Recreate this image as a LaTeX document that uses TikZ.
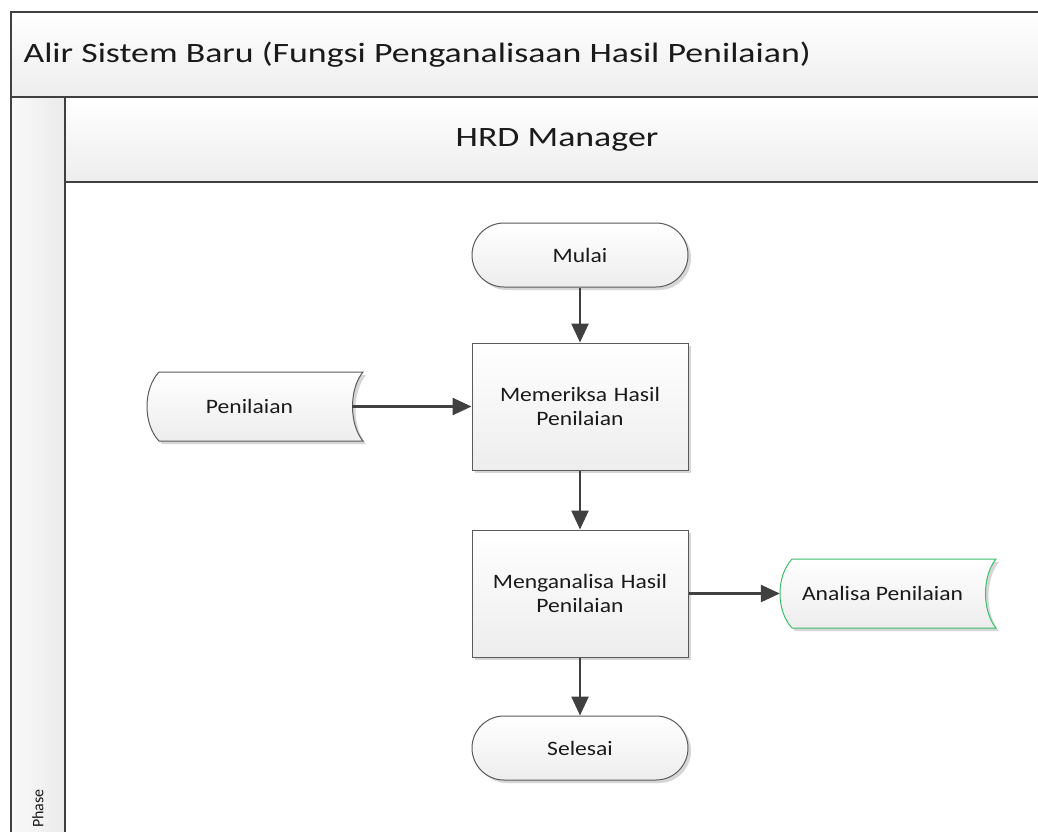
\documentclass[tikz,border=0pt]{standalone}
\usepackage{fontspec}
\setmainfont{Carlito}[FakeStretch=1.15]
\newfontfamily\bandfont{Carlito}[FakeStretch=1.28]
\newfontfamily\phasefont{Carlito}
\usetikzlibrary{arrows.meta,calc,shadows}

\definecolor{frameline}{HTML}{404040}
\definecolor{shapeline}{HTML}{5A5A5A}
\definecolor{fadelow}{HTML}{EDEDED}
\definecolor{storegreen}{HTML}{3CBF6E}
\definecolor{inktext}{HTML}{1A1A1A}

\tikzset{
  lanefill/.style={top color=white, bottom color=black!7, draw=none},
  laneline/.style={draw=frameline, line width=2pt},
  softshadow/.style={drop shadow={shadow xshift=3pt, shadow yshift=-3pt, fill=black!16, opacity=1}},
  boxfill/.style={top color=white, bottom color=fadelow},
  shapefont/.style={text=inktext, font=\fontsize{20.5}{24}\selectfont},
  process/.style={rectangle, draw=shapeline, line width=1pt, boxfill, softshadow,
    minimum width=216pt, minimum height=127pt, align=center, text width=205pt, shapefont},
  terminal/.style={rectangle, rounded corners=32pt, draw=shapeline, line width=1pt, boxfill, softshadow,
    minimum width=216pt, minimum height=64pt, align=center, shapefont},
  storeoutline/.style={draw=#1, line width=1pt, boxfill, softshadow},
  storetext/.style={draw=none, minimum width=205pt, minimum height=69pt, align=center, shapefont},
  flow/.style={draw=frameline, line width=2.5pt, -{Triangle[length=19pt, width=17pt]}},
}

% stored-data outline: convex left side, concave right side
% #1 centre, #2 half width, #3 half height, #4 line colour
\newcommand\storeoutline[4]{%
  \path[shift={#1}, storeoutline=#4]
    (-#2+12,-#3) -- (#2+11,-#3)
    .. controls (#2-3,-#3+17) and (#2-3,#3-17) .. (#2+11,#3)
    -- (-#2+12,#3)
    .. controls (-#2-4,#3-17) and (-#2-4,-#3+17) .. cycle;}

\begin{document}
\begin{tikzpicture}[x=1pt,y=-1pt]
  \useasboundingbox (0,0) rectangle (1038,831);
  \fill[white] (0,0) rectangle (1038,831);

  % swimlane bands
  \path[lanefill] (11,12) rectangle (1050,97);
  \path[left color=black!2, right color=black!8] (11,97) rectangle (65,840);
  \path[lanefill] (65,97) rectangle (1050,182);
  \draw[laneline] (1050,12) -- (11,12) -- (11,840);
  \draw[laneline] (11,97) -- (1050,97);
  \draw[laneline] (65,97) -- (65,840);
  \draw[laneline] (65,182) -- (1050,182);

  \node[anchor=west, text=inktext, font=\bandfont\fontsize{28}{32}\selectfont] (title) at (20,55)
    {Alir Sistem Baru (Fungsi Penganalisaan Hasil Penilaian)};
  \node[text=inktext, font=\bandfont\fontsize{28}{32}\selectfont] (lane) at (557,140) {HRD Manager};
  \node[rotate=90, anchor=east, inner sep=0pt, text=inktext, font=\phasefont\fontsize{16}{19}\selectfont] (phase) at (38,789) {Phase};

  % flowchart shapes
  \node[terminal] (mulai) at (580,255) {Mulai};
  \node[process] (periksa) at (580,406.5) {Memeriksa Hasil\\Penilaian};
  \node[process] (analisa) at (580,593.5) {Menganalisa Hasil\\Penilaian};
  \node[terminal] (selesai) at (580,748) {Selesai};

  \storeoutline{(249.5,406.5)}{102.5}{34.5}{shapeline}
  \node[storetext] (nilai) at (249.5,406.5) {Penilaian};

  \storeoutline{(882.5,593.5)}{102.5}{34.5}{storegreen}
  \node[storetext] (hasil) at (882.5,593.5) {Analisa Penilaian};

  % connectors
  \draw[flow] (mulai) -- (periksa);
  \draw[flow] (nilai.east) -- (periksa.west);
  \draw[flow] (periksa) -- (analisa);
  \draw[flow] (analisa.east) -- (hasil.west);
  \draw[flow] (analisa) -- (selesai);
\end{tikzpicture}
\end{document}
